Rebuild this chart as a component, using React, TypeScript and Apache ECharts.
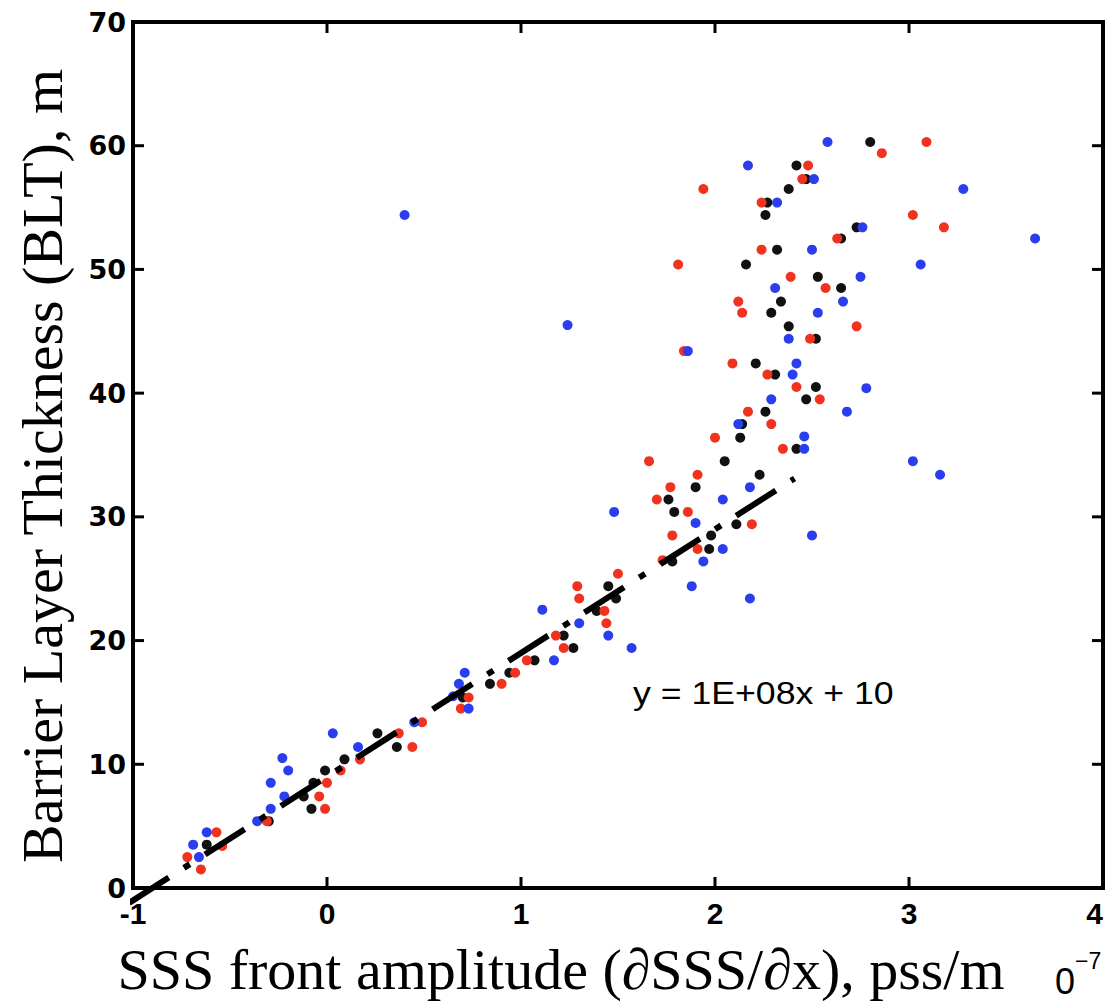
import React, { useEffect, useRef } from 'react';
import * as echarts from 'echarts';

// Scatter values: [SSS front amplitude (x1e-7), BLT (m)]
const bluePoints: [number, number][] = [
  [-0.22, 7.4], [-0.29, 6.4], [-0.36, 5.4], [-0.62, 4.5], [-0.69, 3.5], [-0.66, 2.5],
  [-0.29, 8.5], [-0.2, 9.5], [-0.23, 10.5], [0.03, 12.5], [0.16, 11.4], [0.45, 13.4],
  [0.73, 14.5], [0.71, 17.4], [0.68, 16.5], [0.65, 15.5], [1.17, 18.4], [1.11, 22.5],
  [1.3, 21.4], [1.45, 20.4], [1.57, 19.4], [1.48, 30.4], [2.04, 31.4], [1.9, 29.5],
  [2.5, 28.5], [2.04, 27.4], [1.94, 26.4], [1.88, 24.4], [2.18, 23.4], [2.18, 32.4],
  [2.12, 37.5], [2.46, 36.5], [2.46, 35.5], [2.29, 39.5], [2.42, 42.4], [2.4, 41.5],
  [2.58, 60.3], [2.17, 58.4], [2.51, 57.3], [2.32, 55.4], [2.76, 53.4], [2.5, 51.6],
  [3.06, 50.4], [2.75, 49.4], [2.31, 48.5], [2.66, 47.4], [2.53, 46.5], [2.38, 44.4],
  [1.86, 43.4], [3.28, 56.5], [3.65, 52.5], [2.78, 40.4], [2.68, 38.5], [3.02, 34.5],
  [3.16, 33.4], [0.4, 54.4], [1.24, 45.5],
];

const redPoints: [number, number][] = [
  [-0.31, 5.4], [-0.57, 4.5], [-0.54, 3.4], [-0.72, 2.5], [-0.65, 1.5], [-0.04, 7.4],
  [-0.01, 6.4], [0, 8.5], [0.07, 9.5], [0.17, 10.4], [0.37, 12.5], [0.44, 11.4],
  [0.49, 13.4], [0.69, 14.5], [0.73, 15.4], [0.9, 16.5], [0.97, 17.4], [1.03, 18.4],
  [1.18, 20.4], [1.22, 19.4], [1.44, 21.4], [1.43, 22.4], [1.29, 24.4], [1.3, 23.4],
  [1.5, 25.4], [1.73, 26.5], [1.78, 28.5], [1.91, 27.4], [1.86, 30.4], [2.19, 29.4],
  [1.7, 31.4], [1.77, 32.4], [1.91, 33.4], [1.66, 34.5], [2.0, 36.4], [2.35, 35.5],
  [2.29, 37.5], [2.17, 38.5], [2.54, 39.5], [2.42, 40.5], [2.27, 41.5], [2.09, 42.4],
  [1.84, 43.4], [2.49, 44.4], [2.73, 45.4], [2.14, 46.5], [2.12, 47.4], [2.57, 48.5],
  [2.39, 49.4], [1.81, 50.4], [2.24, 51.6], [3.18, 53.4], [2.63, 52.5], [3.02, 54.4],
  [2.24, 55.4], [1.94, 56.5], [2.45, 57.3], [2.48, 58.4], [2.86, 59.4], [3.09, 60.3],
];

const blackPoints: [number, number][] = [
  [-0.3, 5.4], [-0.62, 3.5], [-0.12, 7.4], [-0.08, 6.4], [-0.07, 8.5], [-0.01, 9.5],
  [0.09, 10.4], [0.26, 12.5], [0.36, 11.4], [0.7, 15.4], [0.84, 16.5], [0.94, 17.4],
  [1.07, 18.4], [1.22, 20.4], [1.27, 19.4], [1.39, 22.4], [1.45, 24.4], [1.49, 23.4],
  [1.78, 26.4], [1.97, 27.4], [1.98, 28.5], [2.11, 29.4], [1.79, 30.4], [1.76, 31.4],
  [1.9, 32.4], [2.23, 33.4], [2.05, 34.5], [2.42, 35.5], [2.13, 36.4], [2.14, 37.5],
  [2.26, 38.5], [2.47, 39.5], [2.52, 40.5], [2.31, 41.5], [2.21, 42.4], [2.52, 44.4],
  [2.38, 45.4], [2.29, 46.5], [2.34, 47.4], [2.65, 48.5], [2.53, 49.4], [2.16, 50.4],
  [2.32, 51.6], [2.65, 52.5], [2.73, 53.4], [2.26, 54.4], [2.27, 55.4], [2.38, 56.5],
  [2.47, 57.3], [2.42, 58.4], [2.8, 60.3],
];

// Trend line endpoints (dash-dot)
const fitLine: [number, number][] = [
  [-1.02, -1.2],
  [2.41, 33.1],
];

// Axis ranges and tick positions
const xMin = -1;
const xMax = 4;
const yMin = 0;
const yMax = 70;
const xTickValues = [-1, 0, 1, 2, 3, 4];
const yTickValues = [0, 10, 20, 30, 40, 50, 60, 70];

const xTitle = 'SSS front amplitude (\u2202SSS/\u2202x), pss/m';
const yTitle = 'Barrier Layer Thickness (BLT), m';
const fitLabel = 'y = 1E+08x + 10';

// Layout
const W = 1110;
const H = 1004;
const G_LEFT = 133;
const G_RIGHT = 7;
const G_TOP = 22;
const G_BOTTOM = 116;

export default function App() {
  const ref = useRef<HTMLDivElement>(null);

  useEffect(() => {
    if (!ref.current) return;
    const chart = echarts.init(ref.current, undefined, { renderer: 'svg' });

    const scatter = (name: string, data: [number, number][], color: string, z: number) => ({
      name,
      type: 'scatter',
      data,
      symbol: 'circle',
      symbolSize: 10,
      itemStyle: { color, opacity: 1 },
      z,
    });

    // Frame ticks (inward) drawn as graphic lines at the grid's scale positions
    const TICK_LEN = 11;
    const gx0 = G_LEFT;
    const gx1 = W - G_RIGHT;
    const gy0 = G_TOP;
    const gy1 = H - G_BOTTOM;
    const sx = (v: number) => gx0 + ((v - xMin) / (xMax - xMin)) * (gx1 - gx0);
    const sy = (v: number) => gy1 - ((v - yMin) / (yMax - yMin)) * (gy1 - gy0);
    const lineStyle = { stroke: '#000000', lineWidth: 3 };
    const tickEls: any[] = [];
    yTickValues.forEach((v, i) => {
      const y = sy(v);
      tickEls.push({ type: 'line', id: 'ytl' + i, z: 100, silent: true, shape: { x1: gx0, y1: y, x2: gx0 + TICK_LEN, y2: y }, style: lineStyle });
      tickEls.push({ type: 'line', id: 'ytr' + i, z: 100, silent: true, shape: { x1: gx1, y1: y, x2: gx1 - TICK_LEN, y2: y }, style: lineStyle });
    });
    xTickValues.forEach((v, i) => {
      const x = sx(v);
      tickEls.push({ type: 'line', id: 'xtb' + i, z: 100, silent: true, shape: { x1: x, y1: gy1, x2: x, y2: gy1 - TICK_LEN }, style: lineStyle });
      tickEls.push({ type: 'line', id: 'xtt' + i, z: 100, silent: true, shape: { x1: x, y1: gy0, x2: x, y2: gy0 + TICK_LEN }, style: lineStyle });
    });

    chart.setOption({
      animation: false,
      backgroundColor: '#ffffff',
      grid: {
        left: G_LEFT,
        right: G_RIGHT,
        top: G_TOP,
        bottom: G_BOTTOM,
        show: true,
        borderColor: '#000',
        borderWidth: 4,
        backgroundColor: 'transparent',
        containLabel: false,
        outerBoundsMode: 'none',
      },
      xAxis: {
        type: 'value',
        min: xMin,
        max: xMax,
        interval: 1,
        position: 'bottom',
        axisLine: { show: false, onZero: false },
        axisTick: { show: false },
        splitLine: { show: false },
        axisLabel: {
          show: true,
          color: '#000',
          fontFamily: '"Liberation Sans", Arial, sans-serif',
          fontWeight: 'bold',
          fontSize: 30,
          margin: 10,
          showMinLabel: true,
          showMaxLabel: true,
          alignMaxLabel: 'right',
        },
      },
      yAxis: {
        type: 'value',
        min: yMin,
        max: yMax,
        interval: 10,
        position: 'left',
        axisLine: { show: false, onZero: false },
        axisTick: { show: false },
        splitLine: { show: false },
        axisLabel: {
          show: true,
          color: '#000',
          fontFamily: '"DejaVu Sans", "Liberation Sans", Arial, sans-serif',
          fontWeight: 'bold',
          fontSize: 27,
          margin: 7,
          showMinLabel: true,
          showMaxLabel: true,
        },
      },
      series: [
        scatter('black', blackPoints, '#111111', 2),
        scatter('red', redPoints, '#f0321f', 3),
        scatter('blue', bluePoints, '#2a3ef0', 4),
        {
          name: 'fit',
          type: 'line',
          data: fitLine,
          showSymbol: false,
          symbol: 'none',
          clip: false,
          z: 6,
          lineStyle: { color: '#000', width: 6, type: [47, 18, 7, 18], cap: 'butt' },
        },
      ],
      graphic: {
        elements: [
          {
            type: 'text',
            id: 'xtitle',
            x: 561,
            y: 969,
            style: {
              text: xTitle,
              font: '58px "Liberation Serif", "Times New Roman", serif',
              fill: '#000',
              textAlign: 'center',
              textVerticalAlign: 'middle',
            },
          },
          {
            type: 'text',
            id: 'ytitle',
            x: 42,
            y: 466,
            rotation: Math.PI / 2,
            style: {
              text: yTitle,
              font: '58px "Liberation Serif", "Times New Roman", serif',
              fill: '#000',
              textAlign: 'center',
              textVerticalAlign: 'middle',
            },
          },
          {
            type: 'text',
            id: 'fitlabel',
            x: 633,
            y: 693,
            scaleX: 1.15,
            style: {
              text: fitLabel,
              font: '31px "Liberation Sans", Arial, sans-serif',
              fill: '#000',
              textAlign: 'left',
              textVerticalAlign: 'middle',
            },
          },
          {
            type: 'text',
            id: 'exp0',
            x: 1055,
            y: 981,
            style: {
              text: '0',
              font: '36px "Liberation Sans", Arial, sans-serif',
              fill: '#000',
              textAlign: 'left',
              textVerticalAlign: 'middle',
            },
          },
          {
            type: 'text',
            id: 'exp7',
            x: 1075,
            y: 961,
            style: {
              text: '\u22127',
              font: '23px "Liberation Sans", Arial, sans-serif',
              fill: '#000',
              textAlign: 'left',
              textVerticalAlign: 'middle',
            },
          },
          ...tickEls,
        ],
      },
    });

    return () => {
      chart.dispose();
    };
  }, []);

  return (
    <div
      ref={ref}
      style={{ position: 'fixed', left: 0, top: 0, width: W, height: H, background: '#fff' }}
    />
  );
}
